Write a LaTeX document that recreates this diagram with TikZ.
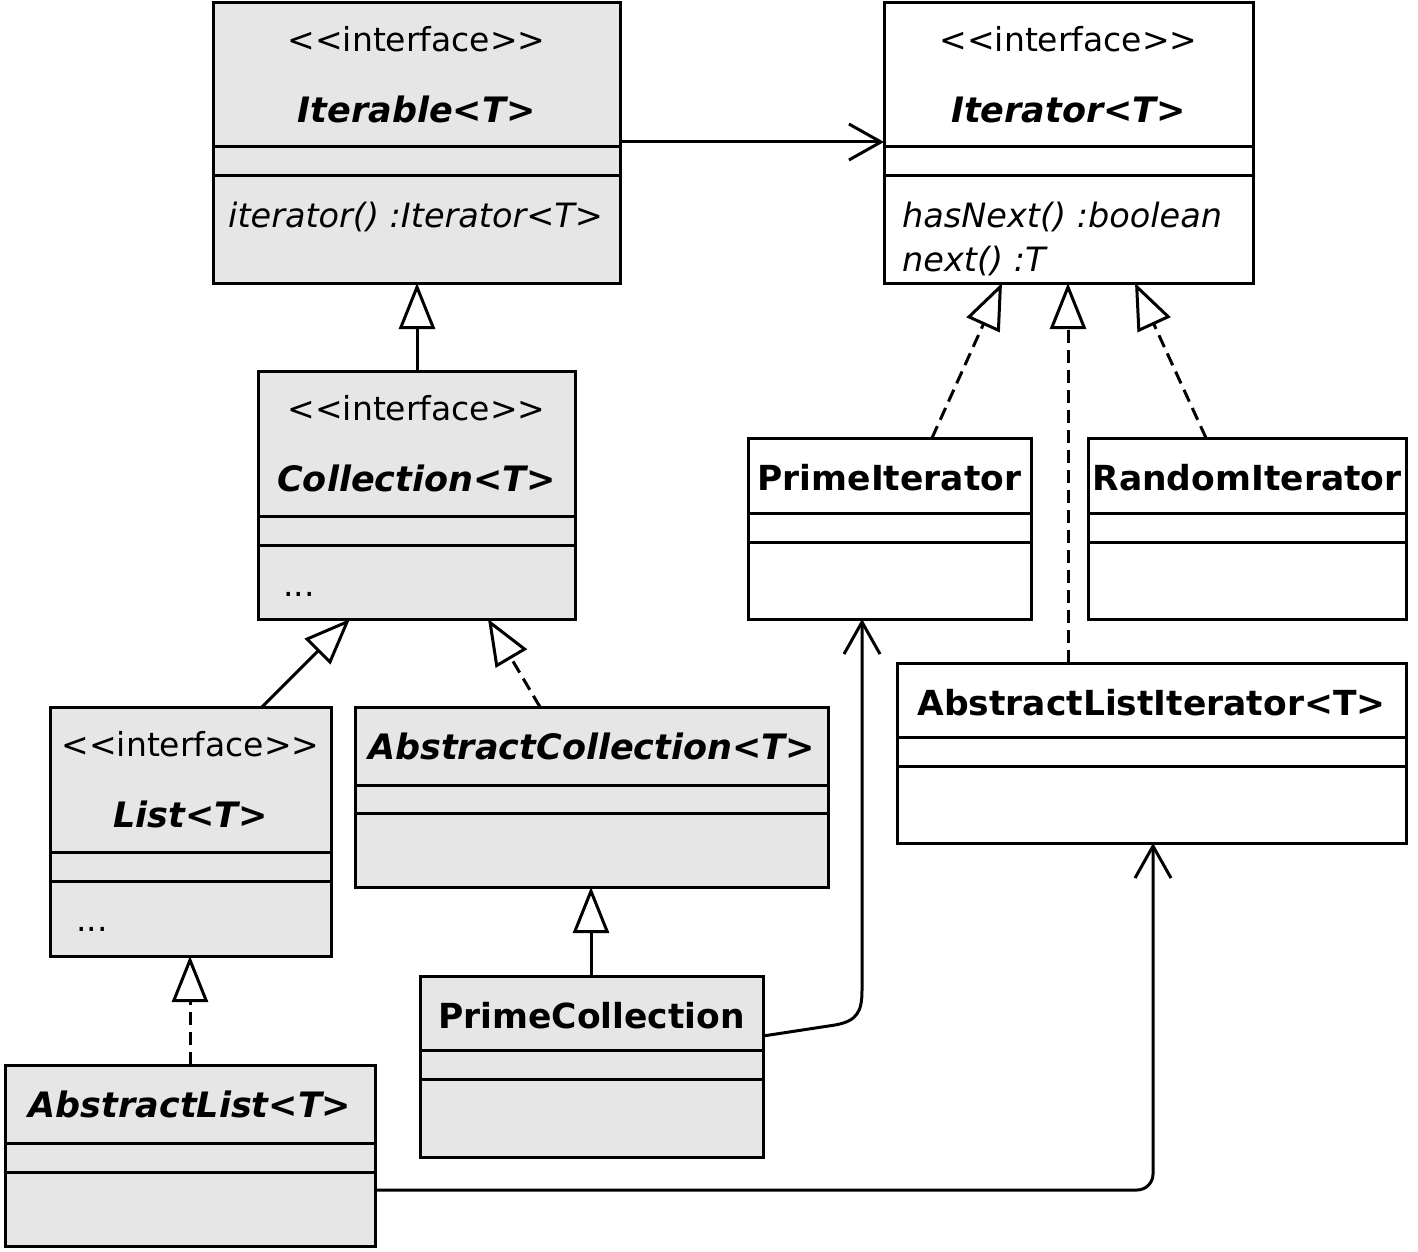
\documentclass[tikz,border=0pt]{standalone}
\usepackage{fontspec}
\setmainfont{DejaVu Sans}
\usetikzlibrary{arrows.meta}
\definecolor{clsgray}{RGB}{230,230,230}
\tikzset{
  cls/.style={draw, line width=3pt, anchor=north west, inner sep=0pt, outer sep=0pt},
  sepline/.style={line width=3pt},
  txt/.style={inner sep=0pt, anchor=base, font=\fontsize{33}{40}\selectfont},
  ttl/.style={txt, font=\fontsize{35}{42}\selectfont\bfseries\itshape},
  ttlup/.style={txt, font=\fontsize{34.5}{42}\selectfont\bfseries},
  meth/.style={txt, anchor=base west, font=\fontsize{33.5}{40}\selectfont\itshape},
  genarrow/.style={line width=3pt, -{Triangle[open, length=46pt, width=36pt]}},
  realarrow/.style={genarrow, dash pattern=on 13pt off 7pt},
  assocarrow/.style={line width=3pt, -{Straight Barb[length=32pt, width=36pt]}},
}
% name, x1, y1, x2, y2, sep1, sep2, fill
\newcommand\umlbox[8]{%
  \node[cls, fill=#8, minimum width={#4-#2}, minimum height={#5-#3}] (#1) at (#2,#3) {};
  \draw[sepline] (#1.west |- 0,#6) -- (#1.east |- 0,#6);
  \draw[sepline] (#1.west |- 0,#7) -- (#1.east |- 0,#7);
}
\newcommand\stereotxt{<\kern0pt<interface>\kern0pt>}
\begin{document}
\begin{tikzpicture}[x=1pt, y=-1pt]
\path[fill=white, use as bounding box] (0,0) rectangle (1418,1252);

% boxes
\umlbox{iterable}{213}{3}{620}{283}{147}{176}{clsgray}
\umlbox{iterator}{884}{3}{1253}{283}{147}{176}{white}
\umlbox{collection}{258}{371}{575}{619}{516}{545}{clsgray}
\umlbox{primeit}{748}{438}{1031}{619}{513}{542}{white}
\umlbox{randit}{1088}{438}{1406}{619}{513}{542}{white}
\umlbox{ali}{897}{663}{1406}{843}{737}{766}{white}
\umlbox{list}{50}{707}{331}{956}{852}{881}{clsgray}
\umlbox{abscoll}{355}{707}{828}{887}{785}{813}{clsgray}
\umlbox{primecoll}{420}{976}{763}{1157}{1050}{1079}{clsgray}
\umlbox{abslist}{5}{1065}{375}{1246}{1143}{1172}{clsgray}

% texts
\node[txt] (t1) at (iterable.north |- 0,52) {\stereotxt};
\node[ttl] (t2) at (iterable.north |- 0,123) {Iterable<T>};
\node[meth] (t3) at (228,227) {iterator() :Iterator<T>};

\node[txt] (t4) at (iterator.north |- 0,52) {\stereotxt};
\node[ttl] (t5) at (iterator.north |- 0,123) {Iterator<T>};
\node[meth] (t6) at (902,227) {hasNext() :boolean};
\node[meth] (t7) at (902,271) {next() :T};

\node[txt] (t8) at (collection.north |- 0,420) {\stereotxt};
\node[ttl] (t9) at (collection.north |- 0,491) {Collection<T>};
\node[txt, anchor=base west] (t10) at (283,596) {...};

\node[ttlup] (t11) at (primeit.north |- 0,490) {PrimeIterator};
\node[ttlup] (t12) at (randit.north |- 0,490) {RandomIterator};
\node[ttlup] (t13) at (ali.north |- 0,715) {AbstractListIterator<T>};

\node[txt] (t14) at (list.north |- 0,756) {\stereotxt};
\node[ttl] (t15) at (list.north |- 0,827) {List<T>};
\node[txt, anchor=base west] (t16) at (76,931) {...};

\node[ttl] (t17) at (abscoll.north |- 0,759) {AbstractCollection<T>};
\node[ttlup] (t18) at (primecoll.north |- 0,1028) {PrimeCollection};
\node[ttl] (t19) at (abslist.north |- 0,1117) {AbstractList<T>};

% connectors
\draw[assocarrow] (iterable.east |- 0,142) -- (iterator.west |- 0,142);
\draw[genarrow] (collection.north -| 417,0) -- (iterable.south -| 417,0);
\draw[genarrow] (list.north -| 262,0) -- (collection.south -| 350,0);
\draw[realarrow] (abscoll.north -| 540,0) -- (collection.south -| 488,0);
\draw[realarrow] (abslist.north -| 190,0) -- (list.south -| 190,0);
\draw[genarrow] (primecoll.north -| 591,0) -- (abscoll.south -| 591,0);
\draw[realarrow] (primeit.north -| 932,0) -- (iterator.south -| 1002,0);
\draw[realarrow] (ali.north -| 1068,0) -- (iterator.south -| 1068,0);
\draw[realarrow] (randit.north -| 1206,0) -- (iterator.south -| 1135,0);
\draw[assocarrow] (primecoll.east |- 0,1036) -- (835,1025)
  .. controls (857,1021) and (862,1012) .. (862,990) -- (primeit.south -| 862,0);
\draw[assocarrow, rounded corners=16pt] (abslist.east |- 0,1190) -| (ali.south -| 1153,0);
\end{tikzpicture}
\end{document}
